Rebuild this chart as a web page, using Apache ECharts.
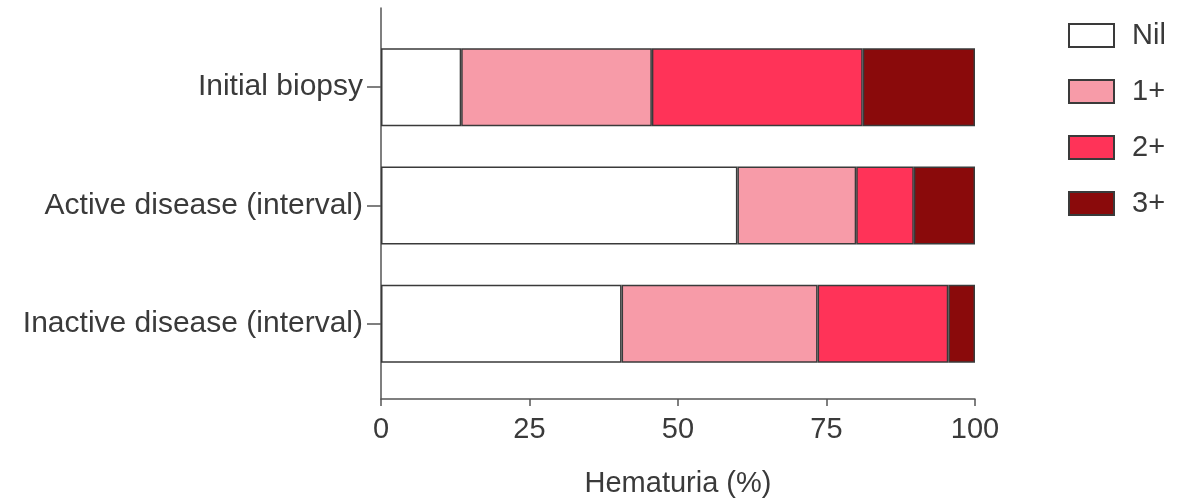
<!DOCTYPE html>
<html>
<head>
<meta charset="utf-8">
<script src="https://cdn.jsdelivr.net/npm/echarts@6/dist/echarts.min.js"></script>
<style>html,body{margin:0;padding:0;background:#fff}#c{width:1191px;height:503px}</style>
</head>
<body>
<div id="c"></div>
<script>
var categories = ['Initial biopsy', 'Active disease (interval)', 'Inactive disease (interval)'];
var seriesNames = ['Nil', '1+', '2+', '3+'];
var nilValues = [13.5, 60, 40.5];
var onePlusValues = [32.1, 20, 33];
var twoPlusValues = [35.5, 9.7, 22];
var threePlusValues = [18.9, 10.3, 4.5];
var xTicks = [0, 25, 50, 75, 100];
var colors = ['#ffffff', '#f79ba8', '#ff3358', '#8a0a0b'];

var allValues = [nilValues, onePlusValues, twoPlusValues, threePlusValues];
var textColor = '#3a3a3a';
var font = 'Liberation Sans, Arial, sans-serif';

var chart = echarts.init(document.getElementById('c'));
chart.setOption({
  animation: false,
  backgroundColor: '#fff',
  textStyle: { fontFamily: font },
  legend: {
    data: seriesNames,
    orient: 'vertical',
    left: 1063,
    top: 16,
    icon: 'rect',
    itemWidth: 45,
    itemHeight: 23,
    itemGap: 27,
    textStyle: { fontSize: 29, color: textColor, fontFamily: font, padding: [0, 0, 0, 13] }
  },
  grid: [
    { left: 381, top: 28, width: 594, height: 355 },
    { left: 381, top: 8, width: 594, height: 396 }
  ],
  xAxis: [
    { type: 'value', gridIndex: 0, min: 0, max: 100, show: false },
    {
      type: 'value', gridIndex: 1, min: 0, max: 100, interval: 25,
      axisLine: { show: true, lineStyle: { color: '#555', width: 1.5 } },
      axisTick: { show: true, length: 7, lineStyle: { color: '#555', width: 1.5 } },
      axisLabel: { fontSize: 29, color: textColor, margin: 16, fontFamily: font,
        formatter: function (v) { return xTicks.indexOf(v) >= 0 ? String(v) : ''; } },
      splitLine: { show: false },
      name: 'Hematuria (%)', nameLocation: 'middle', nameGap: 70,
      nameTextStyle: { fontSize: 29, color: textColor, fontFamily: font }
    }
  ],
  yAxis: [
    {
      type: 'category', gridIndex: 0, data: categories, inverse: true,
      axisLine: { show: false },
      axisTick: { show: true, alignWithLabel: true, length: 14, lineStyle: { color: '#555', width: 1.5 } },
      axisLabel: { fontSize: 30, color: textColor, margin: 18, fontFamily: font }
    },
    {
      type: 'value', gridIndex: 1, min: 0, max: 1,
      axisLine: { show: true, lineStyle: { color: '#555', width: 1.5 } },
      axisTick: { show: false }, axisLabel: { show: false }, splitLine: { show: false }
    }
  ],
  series: seriesNames.map(function (name, i) {
    return {
      name: name, type: 'bar', stack: 'total', xAxisIndex: 0, yAxisIndex: 0,
      barWidth: 78,
      data: allValues[i],
      itemStyle: { color: colors[i], borderColor: '#3a3a3a', borderWidth: 1.5 }
    };
  })
});
</script>
</body>
</html>
